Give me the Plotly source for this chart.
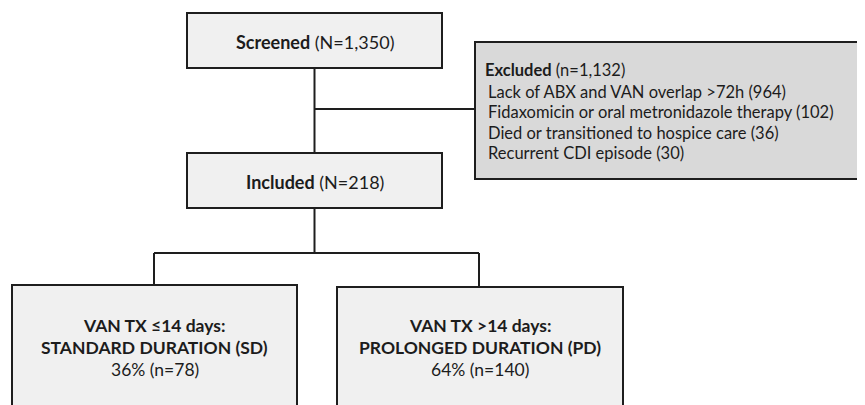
import plotly.graph_objects as go

# ---- data ----
screened_n = 1350
included_n = 218
excluded_n = 1132
exclusion_reasons = [
    "Lack of ABX and VAN overlap >72h",
    "Fidaxomicin or oral metronidazole therapy",
    "Died or transitioned to hospice care",
    "Recurrent CDI episode",
]
exclusion_counts = [964, 102, 36, 30]
group_titles = [
    ["VAN TX \u226414 days:", "STANDARD DURATION (SD)"],
    ["VAN TX >14 days:", "PROLONGED DURATION (PD)"],
]
group_pct = [36, 64]
group_n = [78, 140]

# ---- layout (pixel coordinates of the page; page body has an 8px margin) ----
W, H = 865, 405
OFF = 8
FONT = "Lato, 'Open Sans', sans-serif"
LINE = dict(color="#1e1e1e", width=2)
LIGHT = "#f0f0f0"
DARK = "#d9d9d9"

boxes = [
    dict(x0=187, x1=442, y0=13, y1=68, fill=LIGHT),     # screened
    dict(x0=475, x1=863, y0=42, y1=179, fill=DARK),     # excluded
    dict(x0=187, x1=442, y0=153, y1=208, fill=LIGHT),   # included
    dict(x0=12, x1=297, y0=285, y1=440, fill=LIGHT),    # SD
    dict(x0=337, x1=623, y0=287, y1=440, fill=LIGHT),   # PD
]
connectors = [
    (314.5, 68, 314.5, 153),
    (314.5, 109, 475, 109),
    (314.5, 208, 314.5, 253),
    (154, 253, 479, 253),
    (154, 253, 154, 285),
    (479, 253, 479, 287),
]

fig = go.Figure()
shapes = []
for (x0, y0, x1, y1) in connectors:
    shapes.append(dict(type="line", xref="x", yref="y", x0=x0 - OFF, y0=y0 - OFF,
                       x1=x1 - OFF, y1=y1 - OFF, line=LINE, layer="below"))
for b in boxes:
    shapes.append(dict(type="rect", xref="x", yref="y", x0=b["x0"] - OFF, x1=b["x1"] - OFF,
                       y0=b["y0"] - OFF, y1=b["y1"] - OFF, fillcolor=b["fill"], line=LINE,
                       layer="above"))

ann = []
def txt(x, y, s, size=18, anchor="center"):
    ann.append(dict(x=x - OFF, y=y - OFF, xref="x", yref="y", text=s, showarrow=False,
                    xanchor=anchor, yanchor="middle",
                    font=dict(family=FONT, size=size, color="#1c1c1c")))

txt(314.5, 42, f"<b>Screened</b> (N={screened_n:,})")
txt(314.5, 182, f"<b>Included</b> (N={included_n})")
txt(483, 70, f"<b>Excluded</b> (n={excluded_n:,})", size=16.5, anchor="left")
for i, (r, c) in enumerate(zip(exclusion_reasons, exclusion_counts)):
    txt(486, 91.5 + i * 20.6, f"{r} ({c})", size=16.5, anchor="left")

centers = [154.5, 480]
for cx, title, p, n in zip(centers, group_titles, group_pct, group_n):
    txt(cx, 325, f"<b>{title[0]}</b>", size=17.5)
    txt(cx, 347.5, f"<b>{title[1]}</b>", size=17.5)
    txt(cx, 369.5, f"{p}% (n={n})", size=17.5)

fig.update_layout(
    width=W, height=H, margin=dict(l=0, r=0, t=0, b=0),
    paper_bgcolor="white", plot_bgcolor="white",
    shapes=shapes, annotations=ann, showlegend=False,
    xaxis=dict(range=[0, W], visible=False, fixedrange=True),
    yaxis=dict(range=[H, 0], visible=False, fixedrange=True),
)
fig.write_html("out.html")
